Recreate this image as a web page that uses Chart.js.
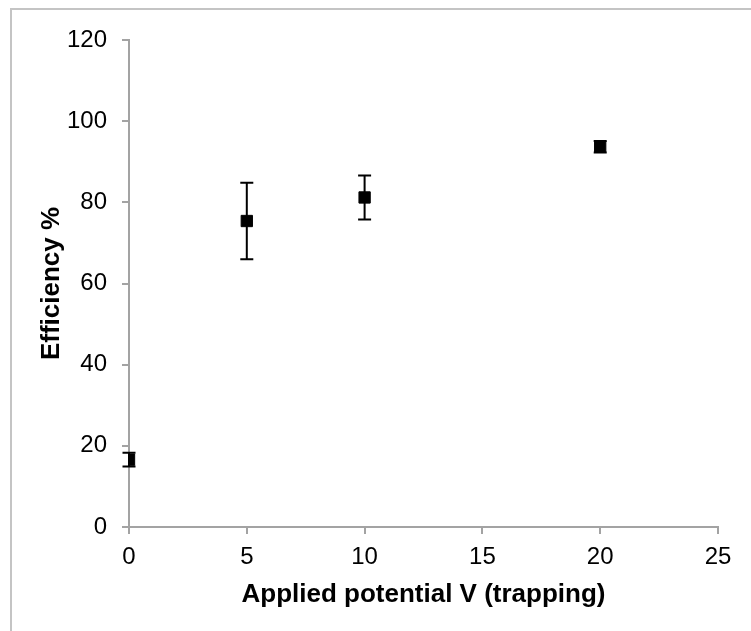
<!DOCTYPE html>
<html>
<head>
<meta charset="utf-8">
<script src="https://cdn.jsdelivr.net/npm/chart.js@4"></script>
<style>
    body { margin: 0; background: #fff; overflow: hidden; }
    #wrap { position: relative; width: 751px; height: 631px; }
    #frame {
        position: absolute; left: 10px; top: 8px; width: 800px; height: 700px;
        border-left: 2px solid #c4c4c4; border-top: 2px solid #c4c4c4;
    }
    canvas { position: absolute; left: 0; top: 0; }
</style>
</head>
<body>
<div id="wrap">
    <div id="frame"></div>
    <canvas id="effChart"></canvas>
</div>
<script>
const potentials = [0, 5, 10, 20];
const efficiency = [16.6, 75.4, 81.2, 93.7];
const errors = [1.7, 9.4, 5.4, 1.4];

const xTicks = [0, 5, 10, 15, 20, 25];
const yTicks = [0, 20, 40, 60, 80, 100, 120];

const axisGray = "#a3a3a3";

// vertical error bars with caps, drawn under the square markers
const errorBars = {
    id: "errorBars",
    beforeDatasetsDraw(chart) {
        const ctx = chart.ctx;
        const xs = chart.scales.x;
        const ys = chart.scales.y;
        ctx.save();
        ctx.strokeStyle = "#000";
        ctx.lineWidth = 2;
        for (let i = 0; i < potentials.length; i++) {
            const px = xs.getPixelForValue(potentials[i]);
            const top = ys.getPixelForValue(efficiency[i] + errors[i]);
            const bot = ys.getPixelForValue(efficiency[i] - errors[i]);
            ctx.beginPath();
            ctx.moveTo(px, top);
            ctx.lineTo(px, bot);
            ctx.moveTo(px - 6.5, top);
            ctx.lineTo(px + 6.5, top);
            ctx.moveTo(px - 6.5, bot);
            ctx.lineTo(px + 6.5, bot);
            ctx.stroke();
        }
        ctx.restore();
    }
};

const ctx = document.getElementById("effChart").getContext("2d");

new Chart(ctx, {
    type: "scatter",
    data: {
        datasets: [{
            data: potentials.map((v, i) => ({ x: v, y: efficiency[i] })),
            pointStyle: "rect",
            pointRadius: 8,
            pointHoverRadius: 8,
            backgroundColor: "#000",
            borderColor: "#000",
            borderWidth: 1
        }]
    },
    options: {
        responsive: true,
        maintainAspectRatio: false,
        animation: false,
        layout: { padding: { left: 0, top: 40, right: 33, bottom: 0 } },
        plugins: {
            legend: { display: false },
            tooltip: { enabled: false }
        },
        scales: {
            x: {
                type: "linear",
                min: 0,
                max: 25,
                afterBuildTicks: (scale) => { scale.ticks = xTicks.map(v => ({ value: v })); },
                afterFit: (scale) => { scale.height = 104; },
                border: { display: true, color: axisGray, width: 2 },
                grid: { drawOnChartArea: false, drawTicks: true, tickLength: 7, color: axisGray, lineWidth: 2 },
                ticks: { color: "#000", padding: 9, font: { family: "Liberation Sans", size: 24 } },
                title: {
                    display: true,
                    text: "Applied potential V (trapping)",
                    color: "#000",
                    font: { family: "Liberation Sans", size: 26, weight: "bold" },
                    padding: { top: 0, bottom: 21 }
                }
            },
            y: {
                min: 0,
                max: 120,
                afterBuildTicks: (scale) => { scale.ticks = yTicks.map(v => ({ value: v })); },
                afterFit: (scale) => { scale.width = 129; },
                border: { display: true, color: axisGray, width: 2 },
                grid: { drawOnChartArea: false, drawTicks: true, tickLength: 7, color: axisGray, lineWidth: 2 },
                ticks: { color: "#000", padding: 15, font: { family: "Liberation Sans", size: 24 } },
                title: {
                    display: true,
                    text: "Efficiency %",
                    color: "#000",
                    font: { family: "Liberation Sans", size: 26, weight: "bold" },
                    padding: { top: 36, bottom: 0 }
                }
            }
        }
    },
    plugins: [errorBars]
});
</script>
</body>
</html>
